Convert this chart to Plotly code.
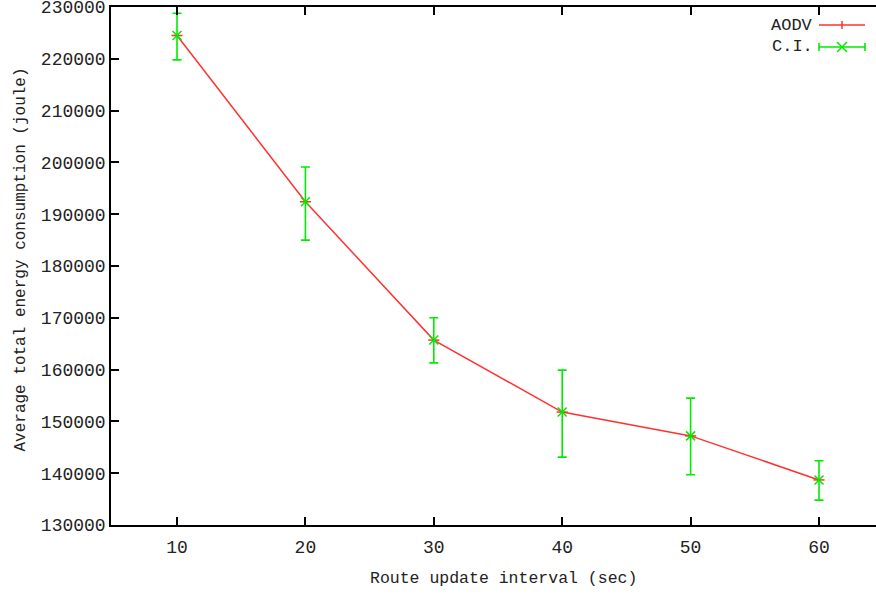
import plotly.graph_objects as go

intervals = [10, 20, 30, 40, 50, 60]
energy = [224500, 192400, 165700, 151800, 147200, 138700]
ci_upper = [228800, 199100, 170000, 159900, 154500, 142400]
ci_lower = [219800, 185000, 161300, 143100, 139700, 134800]

y_ticks = list(range(130000, 230001, 10000))
x_ticks = [10, 20, 30, 40, 50, 60]

err_plus = [u - v for u, v in zip(ci_upper, energy)]
err_minus = [v - l for v, l in zip(energy, ci_lower)]

RED = "rgb(255,50,50)"
GREEN = "rgb(0,235,0)"
FONT = "Liberation Mono, DejaVu Sans Mono, monospace"
TXT = "#222"

fig = go.Figure()
fig.add_trace(go.Scatter(
    x=intervals, y=energy, mode="lines+markers",
    line=dict(color=RED, width=1.5),
    marker=dict(symbol="line-ew-open", size=8, color=RED, line=dict(color=RED, width=1.5)),
    showlegend=False, hoverinfo="skip", cliponaxis=False))
fig.add_trace(go.Scatter(
    x=intervals, y=energy, mode="markers",
    marker=dict(symbol="x-thin-open", size=9, color=GREEN, line=dict(color=GREEN, width=1.5)),
    error_y=dict(type="data", symmetric=False, array=err_plus, arrayminus=err_minus,
                 color=GREEN, thickness=1.6, width=4.5),
    showlegend=False, hoverinfo="skip", cliponaxis=False))

L, R, T, B = 111, 876, 7, 525
W, H = R - L, B - T
def px(x):
    return (x - L) / W
def py(y):
    return (B - y) / H

x0 = 10 - 66 / 12.84
x1 = x0 + W / 12.84

shapes = []
shapes.append(dict(type="line", xref="paper", yref="paper", x0=px(819), x1=px(865), y0=py(25), y1=py(25),
                   line=dict(color=RED, width=1.5)))
shapes.append(dict(type="line", xref="paper", yref="paper", x0=px(842), x1=px(842), y0=py(21), y1=py(29),
                   line=dict(color=RED, width=1.5)))
shapes.append(dict(type="line", xref="paper", yref="paper", x0=px(819), x1=px(865), y0=py(47), y1=py(47),
                   line=dict(color=GREEN, width=1.6)))
for xx in (819, 865):
    shapes.append(dict(type="line", xref="paper", yref="paper", x0=px(xx), x1=px(xx), y0=py(43), y1=py(51),
                       line=dict(color=GREEN, width=1.6)))
shapes.append(dict(type="line", xref="paper", yref="paper", x0=px(837), x1=px(847), y0=py(42), y1=py(52),
                   line=dict(color=GREEN, width=1.5)))
shapes.append(dict(type="line", xref="paper", yref="paper", x0=px(837), x1=px(847), y0=py(52), y1=py(42),
                   line=dict(color=GREEN, width=1.5)))

annotations = [
    dict(text="AODV", xref="paper", yref="paper", x=px(815), y=py(25), xanchor="right", yanchor="middle",
         showarrow=False, font=dict(family=FONT, size=17, color=TXT)),
    dict(text="C.I.", xref="paper", yref="paper", x=px(815), y=py(47), xanchor="right", yanchor="middle",
         showarrow=False, font=dict(family=FONT, size=17, color=TXT)),
    dict(text="Route update interval (sec)", xref="paper", yref="paper", x=px(503.5), y=py(578),
         xanchor="center", yanchor="middle", showarrow=False, font=dict(family=FONT, size=16.5, color=TXT)),
    dict(text="Average total energy consumption (joule)", xref="paper", yref="paper", x=px(20), y=py(259.5),
         xanchor="center", yanchor="middle", textangle=-90, showarrow=False,
         font=dict(family=FONT, size=16, color=TXT)),
]

fig.update_layout(
    width=876, height=595,
    margin=dict(l=L, r=876 - R, t=T, b=595 - B, autoexpand=False),
    paper_bgcolor="white", plot_bgcolor="white",
    font=dict(family=FONT, size=16, color=TXT),
    shapes=shapes, annotations=annotations,
    xaxis=dict(range=[x0, x1], tickvals=x_ticks, ticktext=[str(v) for v in x_ticks],
               automargin=False, tickfont=dict(family=FONT, size=18, color=TXT), ticklabelstandoff=5,
               showgrid=False, zeroline=False, showline=True, linecolor="black", linewidth=1.5,
               mirror="ticks", ticks="inside", ticklen=8, tickcolor="black", tickwidth=1.5),
    yaxis=dict(range=[130000, 230000], tickvals=y_ticks, ticktext=[str(v) for v in y_ticks],
               automargin=False, tickfont=dict(family=FONT, size=18, color=TXT),
               ticklabeloverflow="allow",
               showgrid=False, zeroline=False, showline=True, linecolor="black", linewidth=1.5,
               mirror=False, ticks="inside", ticklen=8, tickcolor="black", tickwidth=1.5),
)

fig.write_html("out.html", config={"displayModeBar": False},
               post_script="document.body.style.margin='0';document.body.style.overflow='hidden';")
